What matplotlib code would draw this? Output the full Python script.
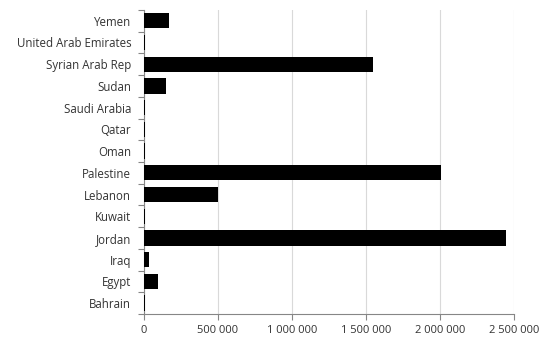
import numpy as np
import matplotlib.pyplot as plt
from matplotlib.ticker import FuncFormatter

# Data (bottom to top)
countries = ["Bahrain", "Egypt", "Iraq", "Jordan", "Kuwait", "Lebanon", "Palestine",
             "Oman", "Qatar", "Saudi Arabia", "Sudan", "Syrian Arab Rep",
             "United Arab Emirates", "Yemen"]
values = [7000, 97000, 37000, 2450000, 8000, 504000, 2010000,
          7000, 7000, 7000, 150000, 1550000, 7000, 172000]

plt.rcParams["font.family"] = ["Open Sans", "DejaVu Sans"]

fig = plt.figure(figsize=(5.42, 3.42), dpi=100)
ax = fig.add_axes([0.265, 0.082, 0.683, 0.889])

y = np.arange(len(countries))
ax.barh(y, values, height=0.7, color="black", zorder=3)

ax.set_xlim(0, 2500000)
ax.set_ylim(-0.5, len(countries) - 0.5)
ax.set_xticks(np.arange(0, 2500001, 500000))
ax.xaxis.set_major_formatter(FuncFormatter(lambda v, p: f"{int(v):,}".replace(",", " ")))
ax.set_yticks(y)
ax.set_yticklabels(countries)
ax.set_yticks(np.arange(-0.5, len(countries), 1), minor=True)

ax.grid(axis="x", color="#d9d9d9", linewidth=0.8, zorder=0)
for s in ["top", "right"]:
    ax.spines[s].set_visible(False)
for s in ["left", "bottom"]:
    ax.spines[s].set_color("#868686")
    ax.spines[s].set_linewidth(0.8)

ax.tick_params(axis="y", which="major", length=0, pad=9, labelsize=8.3, colors="#333333")
ax.tick_params(axis="y", which="minor", length=4, color="#868686", width=0.8)
ax.tick_params(axis="x", which="major", length=4, color="#868686", width=0.8,
               pad=4, labelsize=8, labelcolor="#333333")

fig.savefig("out.png", dpi=100)
